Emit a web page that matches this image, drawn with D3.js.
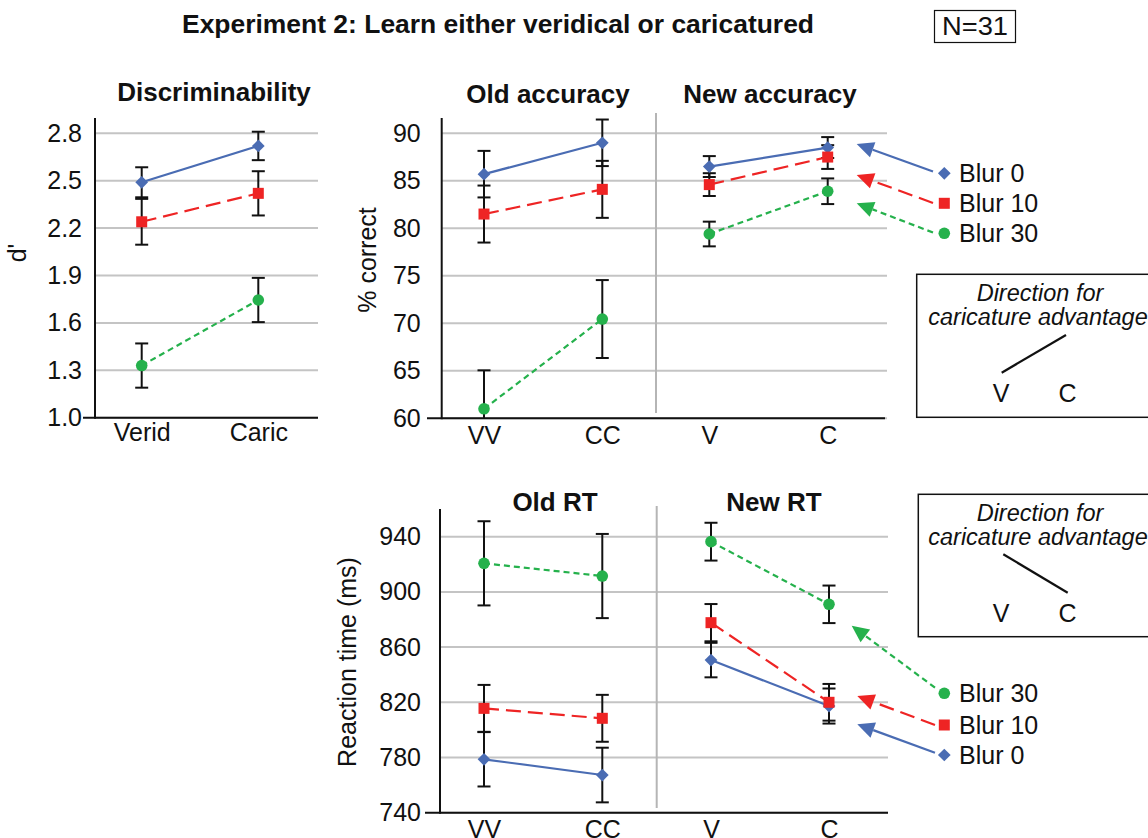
<!DOCTYPE html>
<html><head><meta charset="utf-8">
<script src="https://cdn.jsdelivr.net/npm/d3@7"></script>
<style>
body{margin:0;background:#fff;}
svg{display:block;font-family:"Liberation Sans",Arial,Helvetica,sans-serif;}
</style></head>
<body><svg id="c" width="1148" height="838"></svg>
<script>
// ---------- DATA ----------
const seriesNames = ["Blur 0", "Blur 10", "Blur 30"];
const dprimeCats = ["Verid", "Caric"];
const oldCats = ["VV", "CC"];
const newCats = ["V", "C"];

const dprimeTicks = [1.0, 1.3, 1.6, 1.9, 2.2, 2.5, 2.8];
const accTicks = [60, 65, 70, 75, 80, 85, 90];
const rtTicks = [740, 780, 820, 860, 900, 940];

// d' (Discriminability)
const dprimeMean0 = [2.49, 2.72],  dprimeErr0 = [0.095, 0.09];
const dprimeMean10 = [2.24, 2.42], dprimeErr10 = [0.145, 0.14];
const dprimeMean30 = [1.33, 1.745], dprimeErr30 = [0.14, 0.14];

// Old accuracy (% correct)
const oldAccMean0 = [85.7, 89.0],  oldAccErr0 = [2.45, 2.45];
const oldAccMean10 = [81.5, 84.1], oldAccErr10 = [3.0, 3.0];
const oldAccMean30 = [61.0, 70.45], oldAccErr30 = [4.05, 4.1];

// New accuracy (% correct)
const newAccMean0 = [86.5, 88.5],  newAccErr0 = [1.1, 1.1];
const newAccMean10 = [84.6, 87.5], newAccErr10 = [1.2, 1.25];
const newAccMean30 = [79.4, 83.9], newAccErr30 = [1.3, 1.35];

// Old RT (ms)
const oldRtMean0 = [778.7, 767.3],  oldRtErr0 = [19.7, 19.8];
const oldRtMean10 = [815.6, 808.4], oldRtErr10 = [17, 17];
const oldRtMean30 = [920.7, 911.5], oldRtErr30 = [30.5, 30.5];

// New RT (ms)
const newRtMean0 = [850.6, 817.3],  newRtErr0 = [12.5, 12.7];
const newRtMean10 = [877.7, 820.0], newRtErr10 = [13.5, 13.3];
const newRtMean30 = [936.4, 891.0], newRtErr30 = [13.7, 13.6];

// ---------- STYLE ----------
const colors = ["#4a6cb3", "#ee2424", "#25b14c"];
const dashes = [null, "15,7", "6,4"];
const shapes = ["diamond", "square", "circle"];
const gridCol = "#c4c4c4";

const svg = d3.select("#c");
const F = "Liberation Sans, Arial, sans-serif";

function marker(g, shape, x, y, col) {
  if (shape === "diamond") {
    g.append("rect").attr("x", -4.5).attr("y", -4.5).attr("width", 9).attr("height", 9)
      .attr("fill", col).attr("transform", `translate(${x},${y}) rotate(45)`);
  } else if (shape === "square") {
    g.append("rect").attr("x", x - 5.5).attr("y", y - 5.5).attr("width", 11).attr("height", 11).attr("fill", col);
  } else {
    g.append("circle").attr("cx", x).attr("cy", y).attr("r", 5.8).attr("fill", col);
  }
}

function drawSeries(g, x, y, cats, means, errs) {
  const [ymin] = y.domain();
  means.forEach((m, si) => {
    m.forEach((v, i) => {
      const cx = x(cats[i]);
      const lo = Math.max(ymin, v - errs[si][i]), hi = v + errs[si][i];
      const eb = g.append("g").attr("stroke", "#111").attr("stroke-width", 2);
      eb.append("line").attr("x1", cx).attr("x2", cx).attr("y1", y(lo)).attr("y2", y(hi));
      eb.append("line").attr("x1", cx - 6.5).attr("x2", cx + 6.5).attr("y1", y(hi)).attr("y2", y(hi));
      if (lo > ymin) eb.append("line").attr("x1", cx - 6.5).attr("x2", cx + 6.5).attr("y1", y(lo)).attr("y2", y(lo));
    });
  });
  means.forEach((m, si) => {
    const line = d3.line().x((d, i) => x(cats[i])).y(d => y(d));
    g.append("path").attr("d", line(m)).attr("fill", "none").attr("stroke", colors[si])
      .attr("stroke-width", 2.2).attr("stroke-dasharray", dashes[si]);
  });
  means.forEach((m, si) => {
    m.forEach((v, i) => marker(g, shapes[si], x(cats[i]), y(v), colors[si]));
  });
}

function grid(g, y, ticks, x1, x2) {
  g.selectAll(null).data(ticks).enter().append("line")
    .attr("x1", x1).attr("x2", x2).attr("y1", d => y(d)).attr("y2", d => y(d))
    .attr("stroke", gridCol).attr("stroke-width", 2);
}

function yTicks(g, y, ticks, axisX, pad, fmt) {
  const ax = d3.axisLeft(y).tickValues(ticks).tickSize(0).tickPadding(pad).tickFormat(fmt);
  const a = g.append("g").attr("transform", `translate(${axisX},0)`).call(ax);
  a.select(".domain").remove();
  a.selectAll("text").attr("font-size", 25).attr("font-family", F).attr("fill", "#111");
}

function xTicks(g, x, baseY, pad) {
  const ax = d3.axisBottom(x).tickSize(0).tickPadding(pad);
  const a = g.append("g").attr("transform", `translate(0,${baseY})`).call(ax);
  a.select(".domain").remove();
  a.selectAll("text").attr("font-size", 25).attr("font-family", F).attr("fill", "#111");
}

function title(txt, x, y, size) {
  svg.append("text").attr("x", x).attr("y", y).attr("text-anchor", "middle")
    .attr("font-weight", "bold").attr("font-size", size || 26).attr("font-family", F).attr("fill", "#111").text(txt);
}

function yTitle(txt, x, y) {
  svg.append("text").attr("transform", `translate(${x},${y}) rotate(-90)`).attr("text-anchor", "middle")
    .attr("font-size", 25).attr("font-family", F).attr("fill", "#111").text(txt);
}

// ---------- MAIN TITLE ----------
svg.append("text").attr("x", 498).attr("y", 33).attr("text-anchor", "middle")
  .attr("font-weight", "bold").attr("font-size", 25).attr("font-family", F)
  .attr("textLength", 632).attr("lengthAdjust", "spacingAndGlyphs").attr("fill", "#111")
  .text("Experiment 2: Learn either veridical or caricatured");
svg.append("rect").attr("x", 934.5).attr("y", 10.5).attr("width", 81).attr("height", 32)
  .attr("fill", "none").attr("stroke", "#111").attr("stroke-width", 1.2);
svg.append("text").attr("x", 975).attr("y", 35).attr("text-anchor", "middle")
  .attr("font-size", 25).attr("font-family", F).attr("textLength", 66).attr("lengthAdjust", "spacingAndGlyphs")
  .attr("fill", "#111").text("N=31");

// ---------- PANEL 1: d' ----------
const yD = d3.scaleLinear().domain([1.0, 2.8]).range([417.7, 133.3]);
const xD = d3.scalePoint().domain(dprimeCats).range([141.7, 258.3]);
const g1 = svg.append("g");
grid(g1, yD, dprimeTicks, 95, 318);
g1.append("line").attr("x1", 95).attr("x2", 95).attr("y1", 118).attr("y2", 418.7).attr("stroke", "#111").attr("stroke-width", 2);
g1.append("line").attr("x1", 83).attr("x2", 318).attr("y1", 417.7).attr("y2", 417.7).attr("stroke", "#111").attr("stroke-width", 2);
yTicks(g1, yD, dprimeTicks, 95, 13, d3.format(".1f"));
xTicks(g1, xD, 417.7, 6);
drawSeries(g1, xD, yD, dprimeCats,
  [dprimeMean0, dprimeMean10, dprimeMean30], [dprimeErr0, dprimeErr10, dprimeErr30]);
title("Discriminability", 214, 101);
yTitle("d'", 26, 253);

// ---------- PANEL 2/3: accuracy ----------
const yA = d3.scaleLinear().domain([60, 90]).range([418.3, 133.3]);
const xOldA = d3.scalePoint().domain(oldCats).range([484, 602.3]);
const xNewA = d3.scalePoint().domain(newCats).range([709.3, 827.7]);
const g2 = svg.append("g");
grid(g2, yA, accTicks, 442, 887);
g2.append("line").attr("x1", 656).attr("x2", 656).attr("y1", 113).attr("y2", 413).attr("stroke", "#b5b5b5").attr("stroke-width", 2);
g2.append("line").attr("x1", 441.7).attr("x2", 441.7).attr("y1", 118).attr("y2", 419.3).attr("stroke", "#111").attr("stroke-width", 2);
g2.append("line").attr("x1", 427).attr("x2", 885).attr("y1", 418.3).attr("y2", 418.3).attr("stroke", "#111").attr("stroke-width", 2);
yTicks(g2, yA, accTicks, 441.7, 21, d3.format("d"));
xTicks(g2, xOldA, 418.3, 8);
xTicks(g2, xNewA, 418.3, 8);
drawSeries(g2, xOldA, yA, oldCats,
  [oldAccMean0, oldAccMean10, oldAccMean30], [oldAccErr0, oldAccErr10, oldAccErr30]);
drawSeries(g2, xNewA, yA, newCats,
  [newAccMean0, newAccMean10, newAccMean30], [newAccErr0, newAccErr10, newAccErr30]);
title("Old accuracy", 548, 103);
title("New accuracy", 770, 103);
yTitle("% correct", 376, 260);

// ---------- PANEL 4/5: RT ----------
const yR = d3.scaleLinear().domain([740, 940]).range([812.7, 536.7]);
const xOldR = d3.scalePoint().domain(oldCats).range([484, 602.3]);
const xNewR = d3.scalePoint().domain(newCats).range([711, 829]);
const g3 = svg.append("g");
grid(g3, yR, rtTicks, 440, 888);
g3.append("line").attr("x1", 656.7).attr("x2", 656.7).attr("y1", 506).attr("y2", 808).attr("stroke", "#b5b5b5").attr("stroke-width", 2);
g3.append("line").attr("x1", 440).attr("x2", 440).attr("y1", 509).attr("y2", 813.7).attr("stroke", "#111").attr("stroke-width", 2);
g3.append("line").attr("x1", 425).attr("x2", 888).attr("y1", 812.7).attr("y2", 812.7).attr("stroke", "#111").attr("stroke-width", 2);
yTicks(g3, yR, rtTicks, 440, 19, d3.format("d"));
xTicks(g3, xOldR, 812.7, 8);
xTicks(g3, xNewR, 812.7, 8);
drawSeries(g3, xOldR, yR, oldCats,
  [oldRtMean0, oldRtMean10, oldRtMean30], [oldRtErr0, oldRtErr10, oldRtErr30]);
drawSeries(g3, xNewR, yR, newCats,
  [newRtMean0, newRtMean10, newRtMean30], [newRtErr0, newRtErr10, newRtErr30]);
title("Old RT", 555, 511);
title("New RT", 774, 511);
yTitle("Reaction time (ms)", 356, 662);

// ---------- LEGENDS WITH ARROWS ----------
function arrow(x1, y1, x2, y2, si) {
  const ang = Math.atan2(y2 - y1, x2 - x1);
  const L = 17, W = 8;
  const bx = x2 - L * Math.cos(ang), by = y2 - L * Math.sin(ang);
  svg.append("line").attr("x1", x1).attr("y1", y1).attr("x2", bx).attr("y2", by)
    .attr("stroke", colors[si]).attr("stroke-width", 2.2).attr("stroke-dasharray", dashes[si]);
  const px = -Math.sin(ang) * W, py = Math.cos(ang) * W;
  svg.append("path").attr("d", `M${x2},${y2}L${bx + px},${by + py}L${bx - px},${by - py}Z`).attr("fill", colors[si]);
}
function legendItem(si, y, ax1, ay1, ax2, ay2) {
  arrow(ax1, ay1, ax2, ay2, si);
  marker(svg, shapes[si], 944.3, y, colors[si]);
  svg.append("text").attr("x", 959).attr("y", y + 9).attr("font-size", 25).attr("font-family", F)
    .attr("fill", "#111").text(seriesNames[si]);
}
legendItem(0, 173.3, 933, 171.5, 856.7, 144);
legendItem(1, 203.3, 933, 203, 856.7, 175);
legendItem(2, 233.3, 933, 232.5, 856.7, 203.3);
legendItem(2, 693.3, 935, 687.7, 851.7, 625.7);
legendItem(1, 725, 935, 725, 857.3, 696);
legendItem(0, 755, 935, 752.7, 857.3, 724.3);

// ---------- DIRECTION BOXES ----------
function dirBox(x, y, h, lx1, ly1, lx2, ly2, vY) {
  svg.append("rect").attr("x", x).attr("y", y).attr("width", 300).attr("height", h)
    .attr("fill", "none").attr("stroke", "#111").attr("stroke-width", 1.5);
  svg.append("text").attr("x", 1040).attr("y", y + 27).attr("text-anchor", "middle").attr("font-style", "italic")
    .attr("font-size", 23.5).attr("font-family", F).attr("fill", "#111").text("Direction for");
  svg.append("text").attr("x", 1038).attr("y", y + 51).attr("text-anchor", "middle").attr("font-style", "italic")
    .attr("font-size", 23.5).attr("font-family", F).attr("fill", "#111").text("caricature advantage");
  svg.append("line").attr("x1", lx1).attr("y1", ly1).attr("x2", lx2).attr("y2", ly2).attr("stroke", "#111").attr("stroke-width", 2.2);
  svg.append("text").attr("x", 1001).attr("y", vY).attr("text-anchor", "middle").attr("font-size", 25)
    .attr("font-family", F).attr("fill", "#111").text("V");
  svg.append("text").attr("x", 1067.5).attr("y", vY).attr("text-anchor", "middle").attr("font-size", 25)
    .attr("font-family", F).attr("fill", "#111").text("C");
}
dirBox(916.7, 274.3, 143, 1001.7, 372.7, 1066, 335, 402);
dirBox(918.3, 494.3, 142.4, 1003.3, 554.3, 1067.7, 592.7, 622);
</script></body></html>
